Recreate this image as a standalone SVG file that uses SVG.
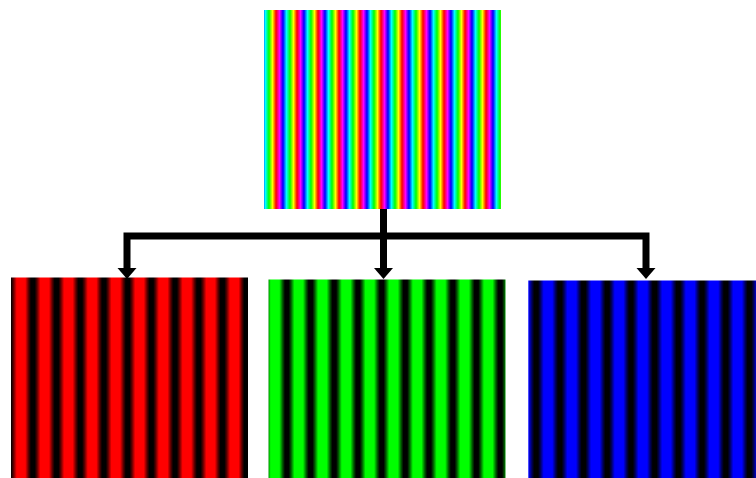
<svg xmlns="http://www.w3.org/2000/svg" width="756" height="478" viewBox="0 0 756 478">
  <defs>
    <linearGradient id="rainbow" gradientUnits="userSpaceOnUse" x1="276" y1="0" x2="297" y2="0" spreadMethod="repeat">
      <stop offset="0" stop-color="#ff0000"/>
      <stop offset="0.1667" stop-color="#ff00ff"/>
      <stop offset="0.3333" stop-color="#0000ff"/>
      <stop offset="0.5" stop-color="#00ffff"/>
      <stop offset="0.6667" stop-color="#00ff00"/>
      <stop offset="0.8333" stop-color="#ffff00"/>
      <stop offset="1" stop-color="#ff0000"/>
    </linearGradient>
    <linearGradient id="redStripes" gradientUnits="userSpaceOnUse" x1="9.15" y1="0" x2="32.85" y2="0" spreadMethod="repeat">
      <stop offset="0" stop-color="#000"/>
      <stop offset="0.08" stop-color="#000"/>
      <stop offset="0.18" stop-color="#5a0000"/>
      <stop offset="0.32" stop-color="#ff0000"/>
      <stop offset="0.68" stop-color="#ff0000"/>
      <stop offset="0.82" stop-color="#5a0000"/>
      <stop offset="0.92" stop-color="#000"/>
      <stop offset="1" stop-color="#000"/>
    </linearGradient>
    <linearGradient id="greenStripes" gradientUnits="userSpaceOnUse" x1="263.15" y1="0" x2="286.85" y2="0" spreadMethod="repeat">
      <stop offset="0" stop-color="#000"/>
      <stop offset="0.08" stop-color="#000"/>
      <stop offset="0.18" stop-color="#005a00"/>
      <stop offset="0.32" stop-color="#00ff00"/>
      <stop offset="0.68" stop-color="#00ff00"/>
      <stop offset="0.82" stop-color="#005a00"/>
      <stop offset="0.92" stop-color="#000"/>
      <stop offset="1" stop-color="#000"/>
    </linearGradient>
    <linearGradient id="blueStripes" gradientUnits="userSpaceOnUse" x1="536.15" y1="0" x2="559.85" y2="0" spreadMethod="repeat">
      <stop offset="0" stop-color="#000"/>
      <stop offset="0.08" stop-color="#000"/>
      <stop offset="0.18" stop-color="#00005a"/>
      <stop offset="0.32" stop-color="#0000ff"/>
      <stop offset="0.68" stop-color="#0000ff"/>
      <stop offset="0.82" stop-color="#00005a"/>
      <stop offset="0.92" stop-color="#000"/>
      <stop offset="1" stop-color="#000"/>
    </linearGradient>
    <marker id="arrow" markerUnits="userSpaceOnUse" markerWidth="14" markerHeight="22" viewBox="0 -11 14 22" refX="0" refY="0" orient="auto">
      <path d="M0,-9.5 L11,0 L0,9.5 Z" fill="#000"/>
    </marker>
  </defs>
  <style>
    .conn { fill: none; stroke: #000; stroke-width: 7; stroke-linejoin: miter; }
  </style>
  <rect width="756" height="478" fill="#fff"/>
  <g id="connectors">
    <path class="conn" d="M383.5,206 V268" marker-end="url(#arrow)"/>
    <path class="conn" d="M383.5,236 H127 V268" marker-end="url(#arrow)"/>
    <path class="conn" d="M383.5,236 H646 V268" marker-end="url(#arrow)"/>
  </g>
  <g id="node-rgb">
    <rect x="264" y="10" width="237" height="199" fill="url(#rainbow)"/>
  </g>
  <g id="node-red">
    <rect x="11" y="277.5" width="237" height="200.5" fill="url(#redStripes)"/>
  </g>
  <g id="node-green">
    <rect x="268.5" y="279.5" width="237" height="198.5" fill="url(#greenStripes)"/>
  </g>
  <g id="node-blue">
    <rect x="528.3" y="280.5" width="227.7" height="197.5" fill="url(#blueStripes)"/>
  </g>
</svg>
